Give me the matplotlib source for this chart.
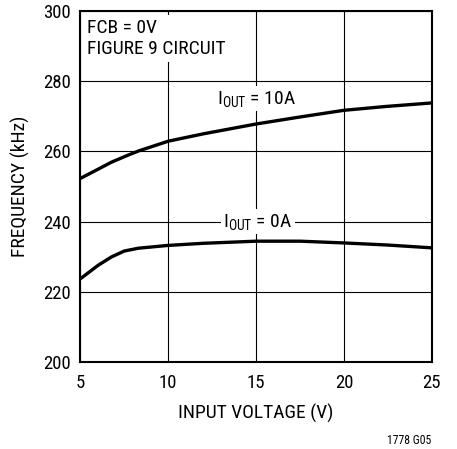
import matplotlib
matplotlib.use('Agg')
import matplotlib.pyplot as plt
from matplotlib import font_manager

names = set(f.name for f in font_manager.fontManager.ttflist)
fam = 'Roboto Condensed' if 'Roboto Condensed' in names else 'Liberation Sans'
plt.rcParams['font.family'] = [fam, 'DejaVu Sans']
plt.rcParams['mathtext.fontset'] = 'custom'
plt.rcParams['mathtext.rm'] = fam
plt.rcParams['mathtext.it'] = fam

# input voltage (V)
vin = [5, 6, 6.76, 7.7, 8.3, 10, 12, 15, 17.5, 20, 22.4, 25]
# frequency (kHz), IOUT = 10A
f_10a = [252.3, 254.9, 256.9, 258.9, 260.1, 262.9, 265.0, 267.8, 269.8, 271.7, 272.8, 273.8]
vin_0 = [5, 6, 6.76, 7.5, 8.3, 10, 12, 15, 17.5, 20, 22.5, 25]
# frequency (kHz), IOUT = 0A
f_0a = [223.7, 227.5, 229.9, 231.6, 232.4, 233.2, 233.8, 234.4, 234.4, 233.9, 233.3, 232.5]

fig = plt.figure(figsize=(4.57, 4.49), dpi=100)
ax = fig.add_axes([0.176, 0.194, 0.769, 0.7815])

ax.plot(vin, f_10a, color='black', lw=2.4, solid_capstyle='butt', zorder=4)
ax.plot(vin_0, f_0a, color='black', lw=2.4, solid_capstyle='butt', zorder=4)

ax.set_xlim(5, 25)
ax.set_ylim(200, 300)
ax.set_xticks([5, 10, 15, 20, 25])
ax.set_yticks([200, 220, 240, 260, 280, 300])
ax.grid(True, color='black', lw=0.8, zorder=1)
ax.set_axisbelow(True)
ax.tick_params(length=0, labelsize=13.5)
ax.tick_params(axis='x', pad=9)
ax.tick_params(axis='y', pad=7)
for s in ax.spines.values():
    s.set_linewidth(1.5)

ax.set_xlabel('INPUT VOLTAGE (V)', fontsize=14, labelpad=8)
ax.set_ylabel('FREQUENCY (kHz)', fontsize=14, labelpad=9)

box = dict(facecolor='white', edgecolor='none', pad=2)
ax.text(0.018, 0.978, 'FCB = 0V\nFIGURE 9 CIRCUIT', transform=ax.transAxes,
        ha='left', va='top', fontsize=14, linespacing=1.2,
        bbox=dict(facecolor='white', edgecolor='none', pad=3), zorder=3)
ax.text(15.0, 275.0, r'I$_{\mathrm{OUT}}$ = 10A', ha='center', va='center',
        fontsize=14, bbox=box, zorder=3)
ax.text(15.1, 240.0, r'I$_{\mathrm{OUT}}$ = 0A', ha='center', va='center',
        fontsize=14, bbox=box, zorder=3)

fig.text(0.943, 0.018, '1778 G05', ha='right', va='center', fontsize=8.5)

fig.savefig('out.png', dpi=100)
